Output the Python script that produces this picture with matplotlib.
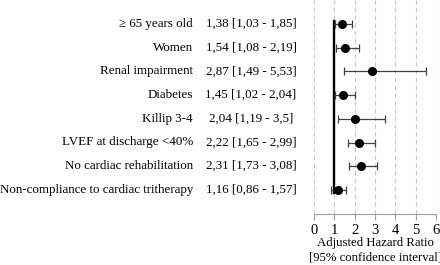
import matplotlib.pyplot as plt

plt.rcParams['font.family'] = ['Liberation Serif', 'DejaVu Serif']

# data
factors = ['\u2265 65 years old', 'Women', 'Renal impairment', 'Diabetes',
           'Killip 3-4', 'LVEF at discharge <40%', 'No cardiac rehabilitation',
           'Non-compliance to cardiac tritherapy']
hr = [1.38, 1.54, 2.87, 1.45, 2.04, 2.22, 2.31, 1.16]
ci_low = [1.03, 1.08, 1.49, 1.02, 1.19, 1.65, 1.73, 0.86]
ci_high = [1.85, 2.19, 5.53, 2.04, 3.5, 2.99, 3.08, 1.57]
hr_text = ['1,38 [1,03 - 1,85]', '1,54 [1,08 - 2,19]', '2,87 [1,49 - 5,53]',
           '1,45 [1,02 - 2,04]', '2,04 [1,19 - 3,5]', '2,22 [1,65 - 2,99]',
           '2,31 [1,73 - 3,08]', '1,16 [0,86 - 1,57]']
ticks = [0, 1, 2, 3, 4, 5, 6]

W, H = 440, 265
fig = plt.figure(figsize=(W / 100, H / 100), dpi=100)
ax = fig.add_axes([314 / W, 1 - 214 / H, 122 / W, 214 / H])

rows = list(range(len(factors)))
err = [[h - l for h, l in zip(hr, ci_low)], [u - h for h, u in zip(hr, ci_high)]]

for t in ticks:
    ax.axvline(t, color='#c8c8c8', lw=0.8, ls=(0, (4, 3)), zorder=0)

ax.plot([1, 1], [-0.1, len(factors) - 1 + 0.1], color='black', lw=1.7, zorder=2)
ax.errorbar(hr, rows, xerr=err, fmt='o', color='black', ecolor='#404040',
            elinewidth=0.9, capsize=3, capthick=0.9, markersize=5.5, zorder=3)

ax.set_xlim(0, 6)
ax.set_ylim(8.0, -1.0)
ax.set_xticks(ticks)
ax.set_yticks([])
for s in ['left', 'right', 'top']:
    ax.spines[s].set_visible(False)
ax.spines['bottom'].set_color('#a0a0a0')
ax.tick_params(axis='x', length=4, color='#a0a0a0', labelsize=10.5, pad=3)

for i, (name, txt) in enumerate(zip(factors, hr_text)):
    ax.text(193 / W, 1 - (24 + i * 23.7) / H, name, transform=fig.transFigure,
            ha='right', va='center', fontsize=9.4)
    ax.text(251 / W, 1 - (24 + i * 23.7) / H, txt, transform=fig.transFigure,
            ha='center', va='center', fontsize=9.4)

fig.text(375 / W, 1 - 243 / H, 'Adjusted Hazard Ratio', ha='center', va='center', fontsize=9.2)
fig.text(375 / W, 1 - 257 / H, '[95% confidence interval]', ha='center', va='center', fontsize=9.2)

fig.savefig('out.png', dpi=100, facecolor='white')
